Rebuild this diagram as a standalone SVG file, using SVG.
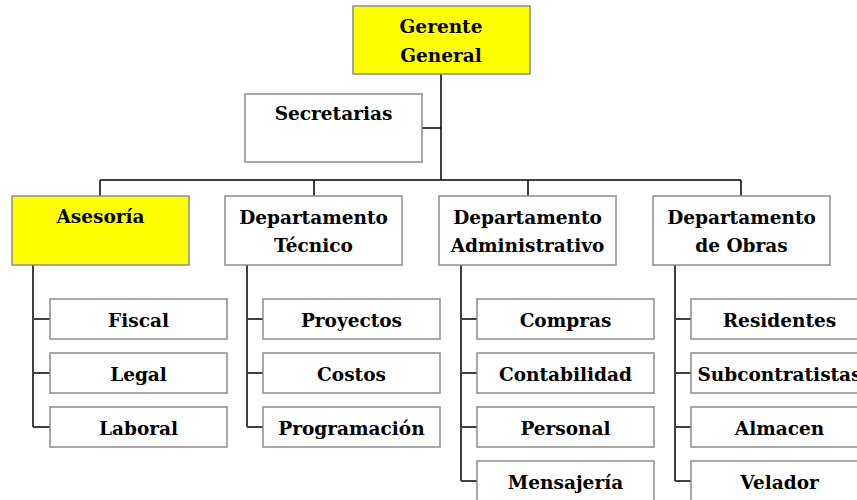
<svg xmlns="http://www.w3.org/2000/svg" width="857" height="500" viewBox="0 0 857 500">
<style>
.box{fill:#fff;stroke:#8c8c8c;stroke-width:1.5}
.yel{fill:#ffff00}
.t{font-family:"DejaVu Serif","Liberation Serif",serif;font-weight:bold;font-size:18.5px;fill:#000;text-anchor:middle}
.c{fill:none;stroke:#000;stroke-width:1.5}
.c2{fill:none;stroke:#404040;stroke-width:2}
</style>
<rect width="857" height="500" fill="#fff"/>
<g id="connectors">
<path class="c" d="M441 74V180M422 128H441M100 180H741M100 180V196M314 180V196M528 180V196M741 180V196"/>
<path class="c" d="M33 265V427M247 265V427M461 265V481M675 265V481"/>
<path class="c2" d="M33 319H50M33 373H50M33 427H50M247 319H263M247 373H263M247 427H263M461 319H477M461 373H477M461 427H477M461 481H477M675 319H691M675 373H691M675 427H691M675 481H691"/>
</g>
<g id="gerente"><rect class="box yel" x="353" y="6" width="177" height="68"/><text class="t" x="441" y="33">Gerente</text><text class="t" x="441" y="62">General</text></g>
<g id="secretarias"><rect class="box" x="245" y="94" width="177" height="68"/><text class="t" x="333.5" y="120">Secretarias</text></g>
<g id="asesoria"><rect class="box yel" x="12" y="196" width="177" height="69"/><text class="t" x="100.5" y="223">Asesoría</text></g>
<g id="tecnico"><rect class="box" x="225" y="196" width="177" height="69"/><text class="t" x="313.5" y="224">Departamento</text><text class="t" x="313.5" y="252">Técnico</text></g>
<g id="administrativo"><rect class="box" x="439" y="196" width="177" height="69"/><text class="t" x="527.5" y="224">Departamento</text><text class="t" x="527.5" y="252">Administrativo</text></g>
<g id="obras"><rect class="box" x="653" y="196" width="177" height="69"/><text class="t" x="741.5" y="224">Departamento</text><text class="t" x="741.5" y="252">de Obras</text></g>
<g id="fiscal"><rect class="box" x="50" y="299" width="177" height="40"/><text class="t" x="138.5" y="327">Fiscal</text></g>
<g id="legal"><rect class="box" x="50" y="353" width="177" height="40"/><text class="t" x="138.5" y="381">Legal</text></g>
<g id="laboral"><rect class="box" x="50" y="407" width="177" height="40"/><text class="t" x="138.5" y="435">Laboral</text></g>
<g id="proyectos"><rect class="box" x="263" y="299" width="177" height="40"/><text class="t" x="351.5" y="327">Proyectos</text></g>
<g id="costos"><rect class="box" x="263" y="353" width="177" height="40"/><text class="t" x="351.5" y="381">Costos</text></g>
<g id="programacion"><rect class="box" x="263" y="407" width="177" height="40"/><text class="t" x="351.5" y="435">Programación</text></g>
<g id="compras"><rect class="box" x="477" y="299" width="177" height="40"/><text class="t" x="565.5" y="327">Compras</text></g>
<g id="contabilidad"><rect class="box" x="477" y="353" width="177" height="40"/><text class="t" x="565.5" y="381">Contabilidad</text></g>
<g id="personal"><rect class="box" x="477" y="407" width="177" height="40"/><text class="t" x="565.5" y="435">Personal</text></g>
<g id="mensajeria"><rect class="box" x="477" y="461" width="177" height="40"/><text class="t" x="565.5" y="489">Mensajería</text></g>
<g id="residentes"><rect class="box" x="691" y="299" width="177" height="40"/><text class="t" x="779.5" y="327">Residentes</text></g>
<g id="subcontratistas"><rect class="box" x="691" y="353" width="177" height="40"/><text class="t" x="779.5" y="381">Subcontratistas</text></g>
<g id="almacen"><rect class="box" x="691" y="407" width="177" height="40"/><text class="t" x="779.5" y="435">Almacen</text></g>
<g id="velador"><rect class="box" x="691" y="461" width="177" height="40"/><text class="t" x="779.5" y="489">Velador</text></g>
</svg>
